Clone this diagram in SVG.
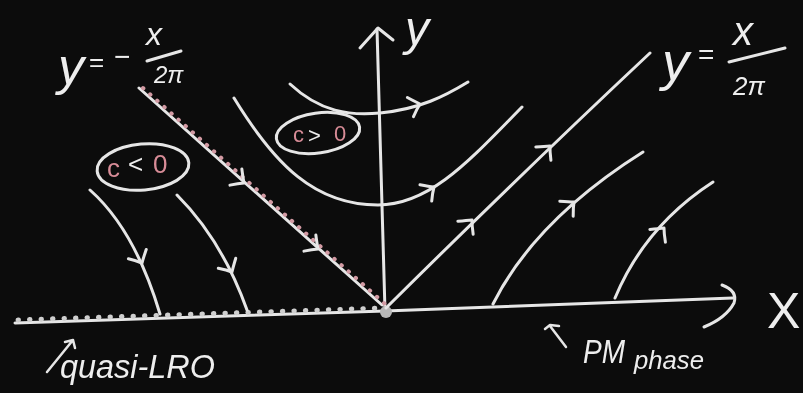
<svg xmlns="http://www.w3.org/2000/svg" xmlns:xlink="http://www.w3.org/1999/xlink" width="803" height="393" viewBox="0 0 803 393">
<style>
.bg{fill:#0c0c0c}
.ch{fill:none;stroke:#e6e6e6;stroke-width:3;stroke-linecap:round;stroke-linejoin:round}
.thin{stroke-width:2.5}
.bump{fill:none;stroke:#cfcfcf;stroke-width:5;stroke-linecap:round;stroke-dasharray:0.5 11}
.pbump{fill:none;stroke:#d29aa3;stroke-width:4;stroke-linecap:round;stroke-dasharray:0.5 9}
.t{font-family:"Liberation Sans","DejaVu Sans",sans-serif;font-style:italic;fill:#eeeeee}
.tp{font-family:"Liberation Sans","DejaVu Sans",sans-serif;fill:#d88c97}
.tw{font-family:"Liberation Sans","DejaVu Sans",sans-serif;fill:#eeeeee}
</style>
<defs>
<filter id="glow" x="-5%" y="-5%" width="110%" height="110%">
<feGaussianBlur stdDeviation="0.7"/>
</filter>
<path id="chev" d="M-11,-9 Q-4,-3 0,0 Q-4,4 -9,11" class="ch"/>
</defs>
<rect class="bg" x="0" y="0" width="803" height="393"/>
<g filter="url(#glow)">
<g id="axes">
<path class="ch" d="M15,323 L385,311"/>
<path class="bump" d="M18,320 L383,308"/>
<path class="ch" d="M385,311 L733,298"/>
<path class="ch" d="M722,285 Q738,291 734,303 Q726,318 704,327"/>
<path class="ch" d="M385,311 L377,29"/>
<path class="ch" d="M360,48 L378,28 L393,40"/>
<circle cx="386" cy="312" r="6" fill="#b8b8b8"/>
</g>
<g id="connectors">
<g id="sep-left">
<path class="ch" d="M139,88 L382,305"/>
<path class="pbump" d="M143,88 L385,304"/>
<use xlink:href="#chev" transform="translate(244,183) rotate(42)"/>
<use xlink:href="#chev" transform="translate(318,249) rotate(42)"/>
</g>
<g id="sep-right">
<path class="ch" d="M386,308 Q520,175 650,53"/>
<use xlink:href="#chev" transform="translate(472,220) rotate(-44)"/>
<use xlink:href="#chev" transform="translate(550,146) rotate(-43)"/>
</g>
<g id="flow-c-pos-1">
<path class="ch" d="M290,84 C320,112 350,116 380,113 C420,109 445,96 468,82"/>
<use xlink:href="#chev" transform="translate(420,104) rotate(-12)"/>
</g>
<g id="flow-c-pos-2">
<path class="ch" d="M234,98 C275,165 315,205 378,205 C430,205 470,160 522,107"/>
<use xlink:href="#chev" transform="translate(434,187) rotate(-30)"/>
</g>
<g id="flow-pm-1">
<path class="ch" d="M493,304 Q535,220 643,152"/>
<use xlink:href="#chev" transform="translate(574,202) rotate(-36)"/>
</g>
<g id="flow-pm-2">
<path class="ch" d="M615,298 Q645,226 713,182"/>
<use xlink:href="#chev" transform="translate(664,228) rotate(-45)"/>
</g>
<g id="flow-c-neg-1">
<path class="ch" d="M90,190 Q135,230 160,314"/>
<use xlink:href="#chev" transform="translate(142,263) rotate(68)"/>
</g>
<g id="flow-c-neg-2">
<path class="ch" d="M177,195 Q222,240 247,310"/>
<use xlink:href="#chev" transform="translate(232,272) rotate(66)"/>
</g>
</g>
<g id="region-c-neg">
<ellipse class="ch" cx="143" cy="167" rx="46" ry="23" transform="rotate(-5 143 167)"/>
<text class="tp" x="107" y="177" font-size="26">c</text>
<text class="tw" x="128" y="173" font-size="26">&lt;</text>
<text class="tp" x="153" y="173" font-size="26">0</text>
</g>
<g id="region-c-pos">
<ellipse class="ch" cx="318" cy="133" rx="42" ry="20" transform="rotate(-8 318 133)"/>
<text class="tp" x="293" y="142" font-size="22">c</text>
<text class="tw" x="308" y="143" font-size="22">&gt;</text>
<text class="tp" x="334" y="141" font-size="22">0</text>
</g>
<g id="label-y-axis">
<text class="t" x="405" y="45" font-size="48">y</text>
</g>
<g id="label-x-axis">
<text class="tw" x="767" y="328" font-size="50">X</text>
</g>
<g id="label-sep-left">
<text class="t" x="58" y="84" font-size="52">y</text>
<text class="tw" x="89" y="71" font-size="26">=</text>
<text class="tw" x="114" y="66" font-size="28">−</text>
<text class="t" x="146" y="45" font-size="32">x</text>
<path class="ch" d="M147,61 L181,51"/>
<text class="t" x="154" y="83" font-size="24">2π</text>
</g>
<g id="label-sep-right">
<text class="t" x="662" y="80" font-size="54">y</text>
<text class="tw" x="698" y="64" font-size="28">=</text>
<text class="t" x="733" y="45" font-size="40">x</text>
<path class="ch" d="M729,62 L785,48"/>
<text class="t" x="733" y="95" font-size="26">2π</text>
</g>
<g id="label-quasi-lro">
<path class="ch thin" d="M47,372 L73,340 M65,342 L73,340 L75,348"/>
<text class="t" x="60" y="378" font-size="34" textLength="155" lengthAdjust="spacingAndGlyphs">quasi-LRO</text>
</g>
<g id="label-pm">
<path class="ch thin" d="M566,347 L550,326 M545,329 L550,325 L559,326"/>
<text class="t" x="583" y="363" font-size="34" textLength="42" lengthAdjust="spacingAndGlyphs">PM</text>
<text class="t" x="634" y="369" font-size="26" textLength="70" lengthAdjust="spacingAndGlyphs">phase</text>
</g>
</g>
</svg>
